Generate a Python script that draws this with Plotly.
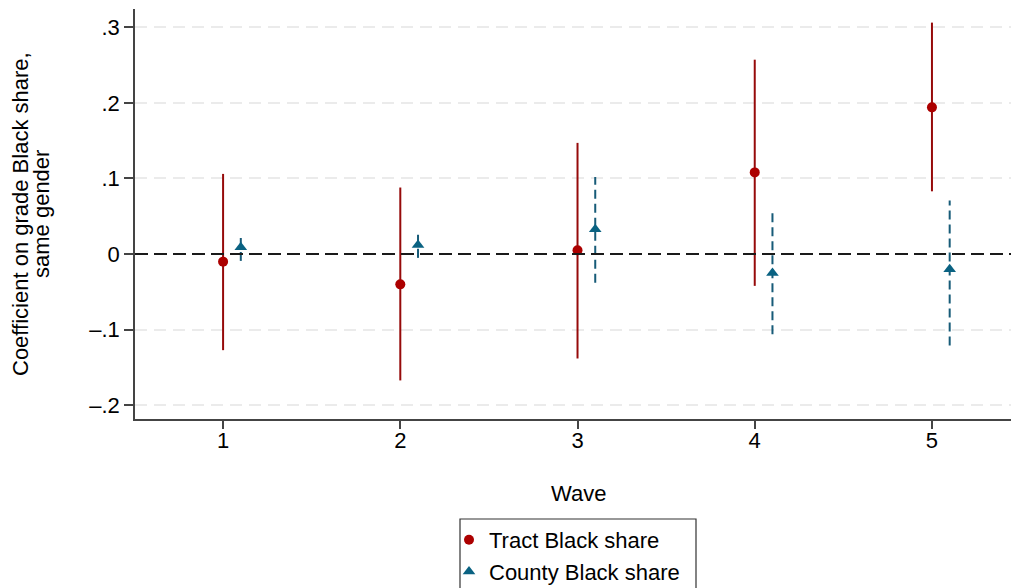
import plotly.graph_objects as go

# Event-study style coefficients by survey wave
waves = [1, 2, 3, 4, 5]

tract_coef = [-0.010, -0.040, 0.005, 0.108, 0.194]
tract_lo = [-0.127, -0.167, -0.138, -0.042, 0.083]
tract_hi = [0.106, 0.088, 0.147, 0.257, 0.306]

county_coef = [0.009, 0.012, 0.033, -0.025, -0.020]
county_lo = [-0.009, -0.005, -0.038, -0.106, -0.121]
county_hi = [0.023, 0.026, 0.102, 0.054, 0.071]

county_offset = 0.1

y_tick_vals = [-0.2, -0.1, 0, 0.1, 0.2, 0.3]
y_tick_text = ["\u2013.2", "\u2013.1", "0", ".1", ".2", ".3"]

TRACT_DOT = "#AC0000"
TRACT_LINE = "#960A0A"
COUNTY_DOT = "#0A6282"
COUNTY_LINE = "#175B78"
FONT = "Liberation Sans, Arial, Helvetica, sans-serif"

# plot-area geometry in pixels
L, T, W, H = 135, 9, 876, 410


def px_x(p):
    return (p - L) / W


def px_y(p):
    return (T + H - p) / H


def segments(xs, lo, hi):
    sx, sy = [], []
    for x, a, b in zip(xs, lo, hi):
        sx += [x, x, None]
        sy += [a, b, None]
    return sx, sy


county_x = [w + county_offset for w in waves]

fig = go.Figure()

tx, ty = segments(waves, tract_lo, tract_hi)
fig.add_trace(go.Scatter(x=tx, y=ty, mode="lines", showlegend=False,
                         line=dict(color=TRACT_LINE, width=2), hoverinfo="skip"))
cx, cy = segments(county_x, county_lo, county_hi)
fig.add_trace(go.Scatter(x=cx, y=cy, mode="lines", showlegend=False,
                         line=dict(color=COUNTY_LINE, width=2, dash="9px,5px"),
                         hoverinfo="skip"))

fig.add_trace(go.Scatter(x=waves, y=tract_coef, mode="markers",
                         name="Tract Black share",
                         marker=dict(symbol="circle", size=10, color=TRACT_DOT)))
fig.add_trace(go.Scatter(x=county_x, y=county_coef, mode="markers",
                         name="County Black share",
                         marker=dict(symbol="triangle-up", size=11, color=COUNTY_DOT)))

# Reference line at zero
fig.add_shape(type="line", xref="paper", x0=0, x1=1, yref="y", y0=0, y1=0,
              line=dict(color="#1a1a1a", width=2, dash="13px,6px"), layer="above")

# Legend frame
fig.add_shape(type="rect", xref="paper", yref="paper",
              x0=px_x(460), x1=px_x(696), y0=px_y(519), y1=px_y(640),
              line=dict(color="#333", width=1.2), fillcolor="rgba(0,0,0,0)")

fig.update_layout(
    width=1011, height=588,
    margin=dict(l=L, r=1011 - L - W, t=T, b=588 - T - H, autoexpand=False),
    paper_bgcolor="white", plot_bgcolor="white",
    font=dict(family=FONT, size=22, color="black"),
    showlegend=True,
    legend=dict(x=px_x(449), xanchor="left",
                y=px_y(519), yanchor="top",
                borderwidth=0, bgcolor="rgba(0,0,0,0)",
                font=dict(size=22), tracegroupgap=0, itemwidth=30),
    xaxis=dict(range=[0.503, 5.446], tickvals=waves, ticktext=[str(w) for w in waves],
               showgrid=False, zeroline=False, showline=True, linecolor="#444",
               linewidth=1.5, ticks="outside", ticklen=8, tickcolor="#444",
               tickwidth=1.5, tickfont=dict(size=22), ticklabelstandoff=-7),
    yaxis=dict(range=[-0.218, 0.324], tickvals=y_tick_vals, ticktext=y_tick_text,
               showgrid=True, gridcolor="#ebebeb", gridwidth=1.5, griddash="12px,7px",
               zeroline=False, showline=True, linecolor="#444", linewidth=1.5,
               ticks="outside", ticklen=9, tickcolor="#444", tickwidth=1.5,
               tickfont=dict(size=22)),
    annotations=[
        dict(text="Wave", xref="paper", yref="paper", x=px_x(578),
             y=px_y(493), xanchor="center", yanchor="middle",
             showarrow=False, font=dict(size=22)),
        dict(text="Coefficient on grade Black share,",
             xref="paper", yref="paper", x=px_x(20), y=px_y(214),
             xanchor="center", yanchor="middle", textangle=-90, showarrow=False,
             font=dict(size=22)),
        dict(text="same gender",
             xref="paper", yref="paper", x=px_x(41), y=px_y(214),
             xanchor="center", yanchor="middle", textangle=-90, showarrow=False,
             font=dict(size=22)),
    ],
)

fig.write_html("out.html")
